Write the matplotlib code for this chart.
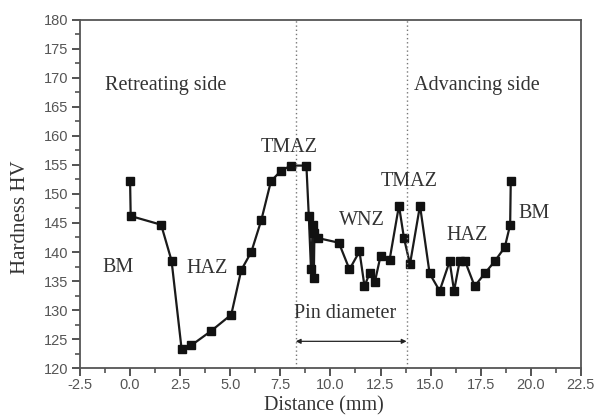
import matplotlib
matplotlib.use("Agg")
import matplotlib.pyplot as plt
from matplotlib.ticker import MultipleLocator

distance = [0.0, 0.03, 1.55, 2.07, 2.57, 3.05, 4.05, 5.05, 5.55, 6.05, 6.55, 7.03,
            7.53, 8.03, 8.8, 8.92, 9.03, 9.12, 9.17, 9.2, 9.38, 10.42, 10.95, 11.45,
            11.7, 11.95, 12.22, 12.5, 12.95, 13.42, 13.67, 13.97, 14.47, 14.95, 15.45,
            15.95, 16.17, 16.45, 16.72, 17.2, 17.7, 18.2, 18.7, 18.97, 19.0]
hardness = [152.2, 146.2, 144.7, 138.5, 123.3, 123.9, 126.4, 129.2, 136.9, 140.0, 145.5, 152.2,
            154.0, 154.9, 154.9, 146.2, 137.0, 144.6, 135.6, 143.3, 142.4, 141.6, 137.0, 140.1,
            134.1, 136.3, 134.9, 139.3, 138.6, 148.0, 142.4, 137.9, 148.0, 136.3, 133.3,
            138.4, 133.3, 138.4, 138.4, 134.1, 136.3, 138.4, 140.8, 144.7, 152.2]

pin_edges = [8.27, 13.8]
zone_labels = ["BM", "HAZ", "TMAZ", "WNZ", "TMAZ", "HAZ", "BM"]
zone_x = [-0.6, 3.85, 7.93, 11.55, 13.93, 16.8, 20.15]
zone_y = [137.4, 137.2, 158.1, 145.5, 152.1, 142.9, 146.6]

xticks = [-2.5, 0.0, 2.5, 5.0, 7.5, 10.0, 12.5, 15.0, 17.5, 20.0, 22.5]
yticks = [120, 125, 130, 135, 140, 145, 150, 155, 160, 165, 170, 175, 180]

serif = ["Liberation Serif", "DejaVu Serif"]
sans = ["Liberation Sans", "DejaVu Sans"]
FS = 14.5

fig = plt.figure(figsize=(5.97, 4.19), dpi=100)
ax = fig.add_axes([0.134, 0.1217, 0.839, 0.8306])

ax.plot(distance, hardness, color="#1a1a1a", lw=1.6, marker="s", ms=6,
        mfc="#111111", mec="#111111")

for xe in pin_edges:
    ax.axvline(xe, color="#777777", lw=1.0, ls=(0, (1, 2)))

ax.annotate("", xy=(pin_edges[0], 124.6), xytext=(pin_edges[1], 124.6),
            arrowprops=dict(arrowstyle="<|-|>", color="#222222", lw=0.9,
                            mutation_scale=7, shrinkA=0, shrinkB=0))
ax.text(10.75, 129.4, "Pin diameter", ha="center", va="center", fontsize=FS,
        family=serif, color="#333333")

ax.text(-1.25, 168.7, "Retreating side", ha="left", va="center", fontsize=FS,
        family=serif, color="#333333")
ax.text(14.15, 168.7, "Advancing side", ha="left", va="center", fontsize=FS,
        family=serif, color="#333333")

for lab, zx, zy in zip(zone_labels, zone_x, zone_y):
    ax.text(zx, zy, lab, ha="center", va="center", fontsize=FS,
            family=serif, color="#333333")

ax.set_xlim(-2.5, 22.5)
ax.set_ylim(120, 180)
ax.set_xticks(xticks)
ax.set_yticks(yticks)
ax.set_xticklabels([f"{v:.1f}" for v in xticks], family=sans, fontsize=10.5, color="#555555")
ax.set_yticklabels([str(v) for v in yticks], family=sans, fontsize=10.5, color="#555555")
ax.xaxis.set_minor_locator(MultipleLocator(1.25))
ax.yaxis.set_minor_locator(MultipleLocator(2.5))
ax.tick_params(which="major", direction="out", length=5.5, width=1.3, color="#444444", pad=3)
ax.tick_params(which="minor", direction="out", length=3.5, width=1.1, color="#444444")
ax.tick_params(axis="x", which="major", pad=2)
for s in ax.spines.values():
    s.set_color("#555555")
    s.set_linewidth(1.3)

ax.set_xlabel("Distance (mm)", family=serif, fontsize=14.5, color="#333333")
ax.set_ylabel("Hardness HV", family=serif, fontsize=15, color="#333333")
ax.xaxis.set_label_coords(0.487, -0.135)
ax.yaxis.set_label_coords(-0.118, 0.434)
ax.xaxis.label.set_va("bottom")
ax.yaxis.label.set_va("center")

fig.savefig("out.png", dpi=100)
